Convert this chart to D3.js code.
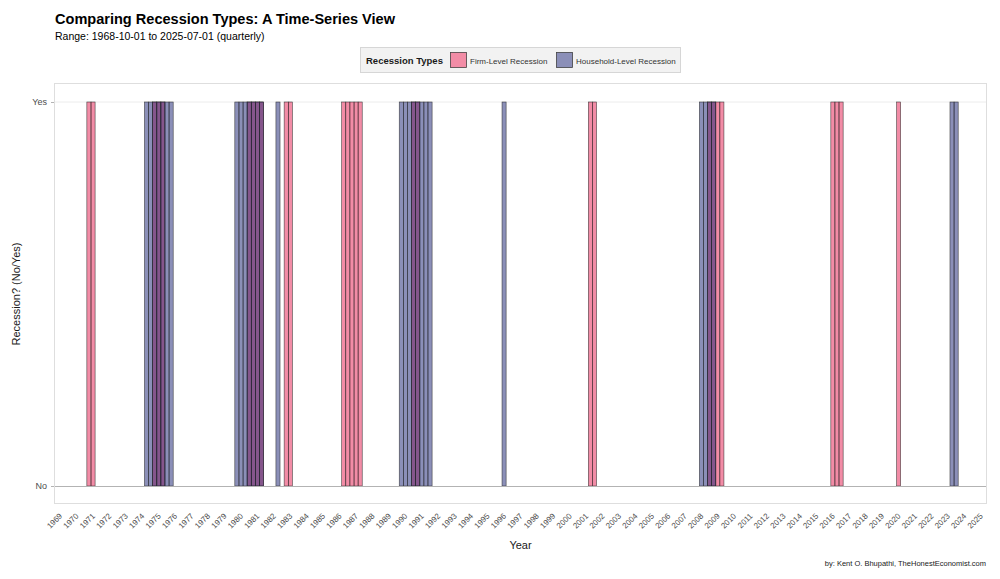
<!DOCTYPE html>
<html>
<head>
<meta charset="utf-8">
<script src="https://cdn.jsdelivr.net/npm/d3@7"></script>
<style>
  html, body { margin: 0; padding: 0; background: #ffffff; }
  svg { display: block; font-family: "Liberation Sans", Arial, sans-serif; }
</style>
</head>
<body>
<svg id="chart" width="1000" height="579"></svg>
<script>
// ---- Data (quarter start dates flagged as recessions) ----
const firmQuarters = [
  "1970-10-01", "1971-01-01",
  "1974-10-01", "1975-01-01", "1975-04-01",
  "1980-07-01", "1980-10-01", "1981-01-01", "1981-04-01",
  "1982-10-01", "1983-01-01",
  "1986-04-01", "1986-07-01", "1986-10-01", "1987-01-01", "1987-04-01",
  "1990-07-01", "1990-10-01",
  "2001-04-01", "2001-07-01",
  "2008-07-01", "2008-10-01", "2009-01-01", "2009-04-01",
  "2016-01-01", "2016-04-01", "2016-07-01",
  "2020-01-01"
];
const householdQuarters = [
  "1974-04-01", "1974-07-01", "1974-10-01", "1975-01-01", "1975-04-01", "1975-07-01", "1975-10-01",
  "1979-10-01", "1980-01-01", "1980-04-01", "1980-07-01", "1980-10-01", "1981-01-01", "1981-04-01",
  "1982-04-01",
  "1989-10-01", "1990-01-01", "1990-04-01", "1990-07-01", "1990-10-01", "1991-01-01", "1991-04-01", "1991-07-01",
  "1996-01-01",
  "2008-01-01", "2008-04-01", "2008-07-01", "2008-10-01",
  "2023-04-01", "2023-07-01"
];
const seriesNames = ["Firm-Level Recession", "Household-Level Recession"];
const seriesColors = ["#e5194d", "#171f71"];
const yCategories = ["No", "Yes"];
const yValues = [0, 1];
const tickYears = d3.range(1969, 2026);
const rangeStart = "1968-10-01";
const rangeEnd = "2025-07-01";

// ---- Layout ----
const svg = d3.select("#chart");
const W = 1000, H = 579;
const panel = { left: 54, right: 987, top: 83, bottom: 504 };
const parse = d3.timeParse("%Y-%m-%d");

const domainStart = d3.timeDay.offset(parse(rangeStart), -46);
const domainEnd = d3.timeDay.offset(parse("2025-04-01"), 46);

const x = d3.scaleTime().domain([domainStart, domainEnd]).range([panel.left, panel.right]);
const y = d3.scaleLinear().domain([0, 1]).range([486, 102]);

svg.append("rect").attr("width", W).attr("height", H).attr("fill", "#ffffff");

// panel border
svg.append("rect")
  .attr("x", panel.left + 0.5).attr("y", panel.top + 0.5)
  .attr("width", panel.right - panel.left - 1).attr("height", panel.bottom - panel.top - 1)
  .attr("fill", "none").attr("stroke", "#dedede").attr("stroke-width", 1);

// gridline at Yes
svg.append("line")
  .attr("x1", panel.left + 1).attr("x2", panel.right - 1)
  .attr("y1", y(1)).attr("y2", y(1))
  .attr("stroke", "#ececec").attr("stroke-width", 1);

// bars, centred on the quarter date, one quarter wide
function barWidth(s) {
  const d = parse(s);
  return x(d3.timeMonth.offset(d, 3)) - x(d);
}
function drawSeries(list, color) {
  const g = svg.append("g");
  g.selectAll("rect").data(list).join("rect")
    .attr("x", d => x(parse(d)) - barWidth(d) / 2)
    .attr("width", d => barWidth(d))
    .attr("y", y(1))
    .attr("height", y(0) - y(1))
    .attr("fill", color)
    .attr("fill-opacity", 0.5)
    .attr("stroke", "#2a2a2a")
    .attr("stroke-opacity", 0.85)
    .attr("stroke-width", 0.6);
}
drawSeries(firmQuarters, seriesColors[0]);
drawSeries(householdQuarters, seriesColors[1]);

// baseline at No
svg.append("line")
  .attr("x1", panel.left + 1).attr("x2", panel.right - 1)
  .attr("y1", y(0) + 0.5).attr("y2", y(0) + 0.5)
  .attr("stroke", "#b3b3b3").attr("stroke-width", 1);

// y axis labels
const yAxis = d3.axisLeft(y).tickValues(yValues).tickFormat((d, i) => yCategories[i]).tickSize(3).tickPadding(4);
const yg = svg.append("g").attr("transform", `translate(${panel.left},0)`).call(yAxis);
yg.select(".domain").remove();
yg.selectAll(".tick line").attr("stroke", "#b3b3b3");
yg.selectAll("text").attr("fill", "#4d4d4d").style("font-size", "9px").style("font-family", "Liberation Sans, Arial, sans-serif");

// x axis labels
const xAxis = d3.axisBottom(x)
  .tickValues(tickYears.map(yr => new Date(yr, 0, 1)))
  .tickFormat(d3.timeFormat("%Y"))
  .tickSize(0);
const xg = svg.append("g").attr("transform", `translate(0,${panel.bottom})`).call(xAxis);
xg.select(".domain").remove();
xg.selectAll("text")
  .attr("fill", "#4d4d4d")
  .style("font-size", "8px")
  .style("font-family", "Liberation Sans, Arial, sans-serif")
  .attr("text-anchor", "end")
  .attr("dy", null)
  .attr("y", 0)
  .attr("transform", "translate(2,12.5) rotate(-45)");

// axis titles
svg.append("text").attr("x", (panel.left + panel.right) / 2).attr("y", 549)
  .attr("text-anchor", "middle").attr("fill", "#1a1a1a").style("font-size", "11px").text("Year");
svg.append("text").attr("transform", `translate(20,${(y(0) + y(1)) / 2}) rotate(-90)`)
  .attr("text-anchor", "middle").attr("fill", "#1a1a1a").style("font-size", "11px").text("Recession? (No/Yes)");

// title, subtitle, caption
svg.append("text").attr("x", 55).attr("y", 24).attr("fill", "#000").style("font-size", "15px").style("font-weight", "bold")
  .attr("textLength", 340).attr("lengthAdjust", "spacingAndGlyphs")
  .text("Comparing Recession Types: A Time-Series View");
svg.append("text").attr("x", 55).attr("y", 40).attr("fill", "#000").style("font-size", "10.5px")
  .text(`Range: ${rangeStart} to ${rangeEnd} (quarterly)`);
svg.append("text").attr("x", 986).attr("y", 566).attr("text-anchor", "end").attr("fill", "#1a1a1a").style("font-size", "7.5px")
  .text("by: Kent O. Bhupathi, TheHonestEconomist.com");

// legend
const lg = svg.append("g");
lg.append("rect").attr("x", 360.5).attr("y", 47.5).attr("width", 320).attr("height", 25)
  .attr("fill", "#f2f2f2").attr("stroke", "#d6d6d6");
lg.append("text").attr("x", 366).attr("y", 64).style("font-size", "9.5px").style("font-weight", "bold").attr("fill", "#1a1a1a")
  .text("Recession Types");
const keyX = [450, 556];
seriesNames.forEach((n, i) => {
  lg.append("rect").attr("x", keyX[i] + 0.5).attr("y", 52.5).attr("width", 16).attr("height", 15)
    .attr("fill", "#fff");
  lg.append("rect").attr("x", keyX[i] + 0.5).attr("y", 52.5).attr("width", 16).attr("height", 15)
    .attr("fill", seriesColors[i]).attr("fill-opacity", 0.5).attr("stroke", "#2a2a2a").attr("stroke-opacity", 0.85).attr("stroke-width", 0.8);
  lg.append("text").attr("x", keyX[i] + 20).attr("y", 63.5).style("font-size", "8px").attr("fill", "#333")
    .text(n);
});
</script>
</body>
</html>
